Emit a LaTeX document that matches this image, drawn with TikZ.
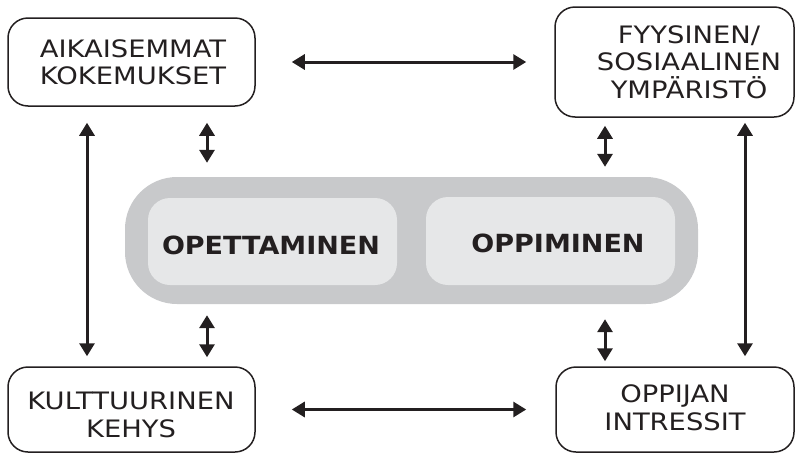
\documentclass[tikz,border=0pt]{standalone}
\usepackage{fontspec}
\usepackage{graphicx}
\setmainfont{DejaVu Sans}
\usetikzlibrary{arrows.meta}
\definecolor{ink}{HTML}{231F20}
\definecolor{pillgray}{HTML}{C8C9CB}
\definecolor{cellgray}{HTML}{E6E7E8}
% slightly widened lettering
\newcommand\wlin[1]{\scalebox{1.14}[1]{#1}}
\newcommand\wbold[1]{\scalebox{1.08}[1]{\bfseries #1}}
\begin{document}
\begin{tikzpicture}[x=1pt,y=-1pt,
  factor/.style={draw=ink,line width=1.5pt,rounded corners=20pt,inner sep=0pt},
  factortext/.style={align=center,text=ink,inner sep=0pt,
    font=\fontsize{24}{27.5}\selectfont},
  celltext/.style={text=ink,inner sep=0pt,font=\fontsize{25}{30}\selectfont},
  link/.style={draw=ink,line width=3pt,
    {Triangle[length=13pt,width=15pt]}-{Triangle[length=13pt,width=15pt]}}]
\useasboundingbox (0,0) rectangle (795,453);

% central pill with its two cells
\node[fill=pillgray,rounded corners=52pt,minimum width=573pt,minimum height=127pt,inner sep=0pt]
  (pill) at (411.5,240.5) {};
\node[fill=cellgray,rounded corners=22pt,minimum width=249pt,minimum height=87pt,inner sep=0pt]
  (teach) at (272.5,241.5) {};
\node[fill=cellgray,rounded corners=22pt,minimum width=249pt,minimum height=88pt,inner sep=0pt]
  (learn) at (550.5,241) {};
\node[celltext] (teachlbl) at (271,245) {\wbold{OPETTAMINEN}};
\node[celltext] (learnlbl) at (558,243.5) {\wbold{OPPIMINEN}};

% four surrounding factors
\node[factor,minimum width=247pt,minimum height=88pt] (tl) at (131.5,62) {};
\node[factor,minimum width=239pt,minimum height=110pt] (tr) at (674.5,62) {};
\node[factor,minimum width=247pt,minimum height=85pt] (bl) at (131.5,409.5) {};
\node[factor,minimum width=238pt,minimum height=85pt] (br) at (675,409.5) {};

\node[factortext] (tllbl) at (133,62.5) {\wlin{AIKAISEMMAT}\\\wlin{KOKEMUKSET}};
\node[factortext] (trlbl) at (689,62) {\wlin{FYYSINEN/}\\\wlin{SOSIAALINEN}\\\wlin{YMPÄRISTÖ}};
\node[factortext] (bllbl) at (131,415) {\wlin{KULTTUURINEN}\\\wlin{KEHYS}};
\node[factortext] (brlbl) at (675,408) {\wlin{OPPIJAN}\\\wlin{INTRESSIT}};

% horizontal links
\draw[link,shorten <=36pt,shorten >=28pt] (tl.east) -- (tl.east -| tr.west);
\draw[link,shorten <=36pt,shorten >=29pt] (bl.east) -- (bl.east -| br.west);

% long vertical links
\draw[link,shorten <=16pt,shorten >=10pt] ([xshift=-44.5pt]tl.south) -- ([xshift=-44.5pt]tl.south |- bl.north);
\draw[link,shorten <=5pt,shorten >=10pt] ([xshift=70.5pt]tr.south) -- ([xshift=70.5pt]tr.south |- br.north);

% short links to the pill
\draw[link,shorten <=16pt,shorten >=14pt] ([xshift=75.5pt]tl.south) -- ([xshift=75.5pt]tl.south |- pill.north);
\draw[link,shorten <=11pt,shorten >=9pt] ([xshift=75.5pt]bl.north |- pill.south) -- ([xshift=75.5pt]bl.north);
\draw[link,shorten <=8pt,shorten >=10pt] ([xshift=-69.5pt]tr.south) -- ([xshift=-69.5pt]tr.south |- pill.north);
\draw[link,shorten <=15pt,shorten >=5pt] ([xshift=-70pt]br.north |- pill.south) -- ([xshift=-70pt]br.north);
\end{tikzpicture}
\end{document}
